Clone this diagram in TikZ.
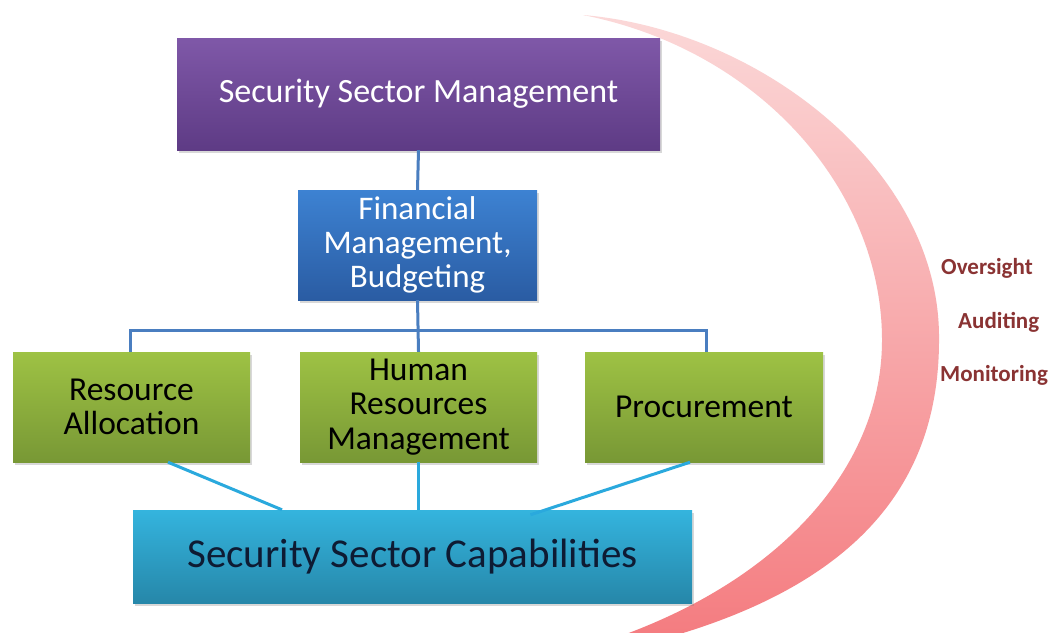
\documentclass[tikz,border=0pt]{standalone}
\usepackage{fontspec}
\setmainfont{Carlito}
\usetikzlibrary{shadows,calc}
\definecolor{purpT}{HTML}{7F58A8}
\definecolor{purpB}{HTML}{5E3B85}
\definecolor{bluT}{HTML}{3D82D2}
\definecolor{bluB}{HTML}{2A5CA3}
\definecolor{grnT}{HTML}{9EC244}
\definecolor{grnB}{HTML}{789835}
\definecolor{cyaT}{HTML}{34B4DE}
\definecolor{cyaB}{HTML}{2687A9}
\definecolor{busline}{HTML}{4A7EC0}
\definecolor{capline}{HTML}{2AA9DD}
\definecolor{crescT}{HTML}{FBD8D8}
\definecolor{crescB}{HTML}{F47A7E}
\definecolor{lblred}{HTML}{8A3333}
\definecolor{navytext}{HTML}{0E1B33}
\tikzset{
  box/.style={rectangle, inner sep=0pt, align=center,
    drop shadow={shadow xshift=2pt, shadow yshift=-3pt, opacity=0.3}},
  purplebox/.style={box, top color=purpT, bottom color=purpB, text=white,
    font=\fontsize{34}{38}\selectfont},
  bluebox/.style={box, top color=bluT, bottom color=bluB, text=white,
    font=\fontsize{33}{34}\selectfont},
  greenbox/.style={box, top color=grnT, bottom color=grnB, text=black,
    font=\fontsize{33.5}{34.5}\selectfont, minimum width=237pt, minimum height=110pt},
  cyanbox/.style={box, top color=cyaT, bottom color=cyaB, text=navytext,
    font=\fontsize{41}{46}\selectfont},
  treeline/.style={draw=busline, line width=3pt},
  capconn/.style={draw=capline, line width=3pt},
  lbl/.style={text=lblred, font=\bfseries\fontsize{23}{26}\selectfont, inner sep=0pt}
}
\begin{document}
\begin{tikzpicture}[x=1pt,y=-1pt]
\useasboundingbox (0,0) rectangle (1056,632);
\fill[white] (0,0) rectangle (1056,632);
% crescent
\begin{scope}
\clip (0,0) rectangle (1056,632);
\shade[top color=crescT, bottom color=crescB]
  (583,15) .. controls (760,30) and (941,170) .. (939,340)
  .. controls (939,490) and (850,600) .. (610,652)
  -- (570,652)
  .. controls (760,600) and (882,480) .. (882,340)
  .. controls (882,190) and (760,50) .. (583,15) -- cycle;
\end{scope}
% boxes
\node[purplebox, minimum width=483pt, minimum height=112pt] (ssm) at (418.5,94) {Security Sector Management};
\node[bluebox, minimum width=239pt, minimum height=110pt] (fin) at (417.5,245) {Financial\\Management,\\Budgeting};
\node[greenbox] (gl) at (131.5,407) {Resource\\Allocation};
\node[greenbox] (gm) at (418.5,407) {Human\\Resources\\Management};
\node[greenbox, minimum width=238pt] (gr) at (704,407) {Procurement};
\node[cyanbox, minimum width=559pt, minimum height=93pt] (cap) at (412.5,556.5) {Security Sector Capabilities};
% tree connectors
\coordinate (busL) at (130,330);
\coordinate (busR) at (706,330);
\draw[treeline] (ssm.south) -- (fin.north);
\draw[treeline] (fin.south) -- (gm.north);
\draw[treeline] (busL |- gl.north) -- (busL) -- (busR) -- (busR |- gr.north);
% capability connectors
\draw[capconn] ($(gl.south)+(36.5,0)$) -- ($(cap.north)+(-130.5,0)$);
\draw[capconn] (gm.south) -- (gm.south |- cap.north);
\draw[capconn] ($(gr.south)+(-14,0)$) -- ($(cap.north)+(118,5)$);
% labels
\node[lbl, anchor=west] (ov) at (941,268) {Oversight};
\node[lbl, anchor=west] (au) at (958,322) {Auditing};
\node[lbl, anchor=west] (mo) at (940,375) {Monitoring};
\end{tikzpicture}
\end{document}
